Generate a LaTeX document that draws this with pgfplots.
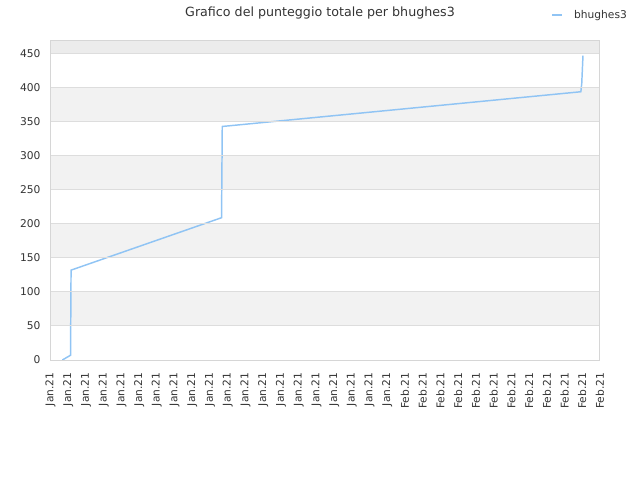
\documentclass[border=0pt]{standalone}
\usepackage{fontspec}
\setmainfont{DejaVu Sans}
\usepackage{pgfplots}
\pgfplotsset{compat=1.18}
\definecolor{linecol}{RGB}{144,196,244}
\definecolor{bandcol}{RGB}{242,242,242}
\definecolor{bandtop}{RGB}{236,236,236}
\definecolor{gridcol}{RGB}{221,221,221}
\definecolor{framecol}{RGB}{214,214,214}
\definecolor{txtcol}{RGB}{51,51,51}
\begin{document}
\begin{tikzpicture}[x=0.75pt,y=0.75pt]
\path[use as bounding box] (0,0) rectangle (640,480);
\node[font=\fontsize{9.5}{11}\selectfont, text=txtcol] at (320,467) {Grafico del punteggio totale per bhughes3};
\begin{axis}[
    at={(50.5*0.75pt,120*0.75pt)}, anchor=south west,
    scale only axis,
    width=549.5*0.75pt, height=320*0.75pt,
    xmin=0, xmax=31,
    ymin=0, ymax=470,
    ytick={0,50,...,450},
    xtick={0,...,31},
    xticklabels={Jan.21,Jan.21,Jan.21,Jan.21,Jan.21,Jan.21,Jan.21,Jan.21,Jan.21,Jan.21,Jan.21,Jan.21,Jan.21,Jan.21,Jan.21,Jan.21,Jan.21,Jan.21,Jan.21,Jan.21,Feb.21,Feb.21,Feb.21,Feb.21,Feb.21,Feb.21,Feb.21,Feb.21,Feb.21,Feb.21,Feb.21,Feb.21},
    x tick label style={rotate=90, anchor=east, font=\fontsize{8}{9}\selectfont, text=txtcol},
    y tick label style={font=\fontsize{8}{9}\selectfont, text=txtcol},
    /pgf/number format/assume math mode=true,
    major tick length=0pt,
    xticklabel shift=6pt,
    yticklabel shift=4pt,
    ymajorgrids, grid style={gridcol, line width=0.75pt},
    axis line style={framecol, line width=0.75pt},
    axis on top,
    legend style={at={(0.911,1.078)}, anchor=west, draw=none, fill=none,
        font=\fontsize{8}{9}\selectfont, text=txtcol, inner sep=0pt},
    legend cell align=left,
    legend image code/.code={\draw[#1] (0pt,0pt) -- (7.5pt,0pt); \path (14pt,0pt);},
]
% background bands
\addplot[fill=bandcol, draw=none, forget plot] coordinates {(0,50) (31,50) (31,100) (0,100)} -- cycle;
\addplot[fill=bandcol, draw=none, forget plot] coordinates {(0,150) (31,150) (31,200) (0,200)} -- cycle;
\addplot[fill=bandcol, draw=none, forget plot] coordinates {(0,250) (31,250) (31,300) (0,300)} -- cycle;
\addplot[fill=bandcol, draw=none, forget plot] coordinates {(0,350) (31,350) (31,400) (0,400)} -- cycle;
\addplot[fill=bandtop, draw=none, forget plot] coordinates {(0,450) (31,450) (31,470) (0,470)} -- cycle;
% score
\addplot[linecol, line width=1.1pt, no marks] coordinates {
    (0.67,0) (1.13,7) (1.16,132) (9.65,209) (9.69,343) (29.92,394) (29.97,406) (30.04,447)
};
\addlegendentry{bhughes3}
\end{axis}
\end{tikzpicture}
\end{document}
